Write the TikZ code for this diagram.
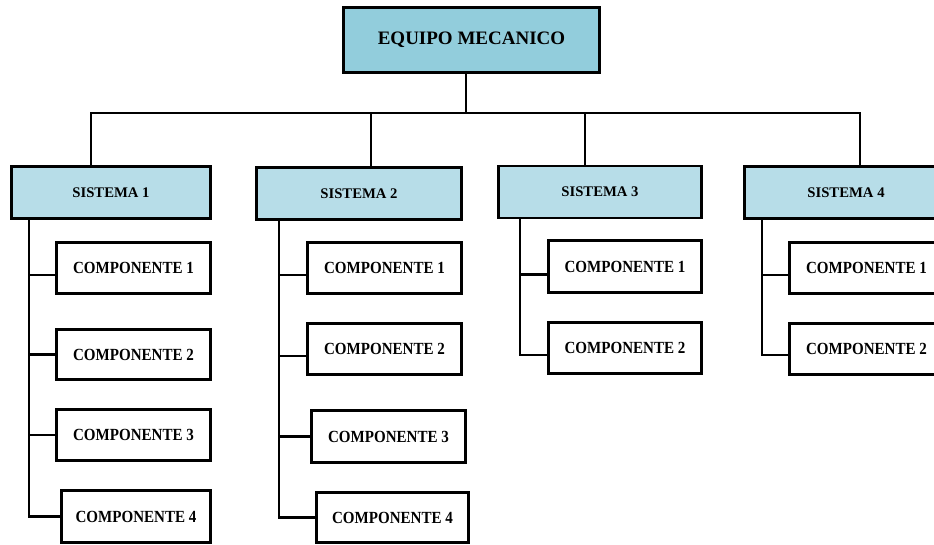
\documentclass[tikz,border=0pt]{standalone}
\usepackage{fontspec}
\setmainfont{Liberation Serif}
\newfontfamily\narrowserif[FakeStretch=0.885]{Liberation Serif}
\begin{document}
\begin{tikzpicture}[x=1pt,y=-1pt,
  box/.style={draw=black,line width=2.8pt,inner sep=0pt,outer sep=0pt,text=black},
  headbox/.style={box,fill=headblue,minimum width=256pt,minimum height=65pt,
    font=\fontsize{19}{22}\selectfont\bfseries},
  sysbox/.style={box,fill=sysblue,minimum height=52pt,
    font=\fontsize{14.7}{17}\selectfont\bfseries},
  compbox/.style={box,fill=white,minimum width=154pt,minimum height=51pt,
    font=\narrowserif\fontsize{17}{19}\selectfont\bfseries},
  bus/.style={draw=black,line width=2.6pt},
  stem/.style={draw=black,line width=1.5pt},
  link/.style={draw=black,line width=2.6pt}
]
\definecolor{headblue}{RGB}{146,205,220}
\definecolor{sysblue}{RGB}{183,221,232}
\useasboundingbox (0,0) rectangle (934,545);
\clip (0,0) rectangle (934,545);

% top level
\node[headbox] (top) at (471.5,40) {EQUIPO MECANICO};

% systems
\node[sysbox,minimum width=199pt] (s1) at (111,192.5) {SISTEMA 1};
\node[sysbox,minimum width=205pt] (s2) at (359,193.5) {SISTEMA 2};
\node[sysbox,minimum width=203pt] (s3) at (600,192) {SISTEMA 3};
\node[sysbox,minimum width=203pt] (s4) at (846,192.5) {SISTEMA 4};

% components of system 1
\node[compbox] (c11) at (133.5,268) {COMPONENTE 1};
\node[compbox,minimum height=50pt] (c12) at (133.5,354.5) {COMPONENTE 2};
\node[compbox] (c13) at (133.5,435) {COMPONENTE 3};
\node[compbox,minimum width=149pt,minimum height=52pt] (c14) at (136,516.5) {COMPONENTE 4};

% components of system 2
\node[compbox] (c21) at (384.5,268) {COMPONENTE 1};
\node[compbox] (c22) at (384.5,349) {COMPONENTE 2};
\node[compbox,minimum height=52pt] (c23) at (388.5,436.5) {COMPONENTE 3};
\node[compbox,minimum width=152pt,minimum height=50pt] (c24) at (392.5,517.5) {COMPONENTE 4};

% components of system 3
\node[compbox,minimum width=153pt,minimum height=52pt] (c31) at (625,266.5) {COMPONENTE 1};
\node[compbox,minimum width=153pt] (c32) at (625,348) {COMPONENTE 2};

% components of system 4
\node[compbox] (c41) at (866.5,268) {COMPONENTE 1};
\node[compbox] (c42) at (866.5,349) {COMPONENTE 2};

% branch points on the left side of each component
\coordinate (c11b) at ([yshift=-7pt]c11.west);
\coordinate (c12b) at (c12.west);
\coordinate (c13b) at (c13.west);
\coordinate (c14b) at (c14.west);
\coordinate (c21b) at ([yshift=-7pt]c21.west);
\coordinate (c22b) at ([yshift=-7pt]c22.west);
\coordinate (c23b) at (c23.west);
\coordinate (c24b) at (c24.west);
\coordinate (c31b) at ([yshift=-8pt]c31.west);
\coordinate (c32b) at ([yshift=-7pt]c32.west);
\coordinate (c41b) at ([yshift=-7pt]c41.west);
\coordinate (c42b) at ([yshift=-6pt]c42.west);

% bus and drops
\coordinate (d0) at (466,74);
\coordinate (b0) at (466,113);
\coordinate (d1) at (91,113);
\coordinate (d2) at (371,113);
\coordinate (d3) at (585,113);
\coordinate (d4) at (860,113);
\draw[stem] (top.south -| d0) -- (b0);
\draw[bus,line cap=rect] (d1) -- (d4);
\draw[bus] (d1) -- (d1 |- s1.north);
\draw[bus] (d2) -- (d2 |- s2.north);
\draw[bus] (d3) -- (d3 |- s3.north);
\draw[bus] (d4) -- (d4 |- s4.north);

% trunks and branches
\coordinate (t1) at (29,0);
\coordinate (t2) at (279,0);
\coordinate (t3) at (520,0);
\coordinate (t4) at (762,0);

\draw[link,line join=miter] (t1 |- s1.south) -- (t1 |- c14b) -- (c14b);
\draw[link] (t1 |- c11b) -- (c11b);
\draw[link] (t1 |- c12b) -- (c12b);
\draw[link] (t1 |- c13b) -- (c13b);

\draw[link,line join=miter] (t2 |- s2.south) -- (t2 |- c24b) -- (c24b);
\draw[link] (t2 |- c21b) -- (c21b);
\draw[link] (t2 |- c22b) -- (c22b);
\draw[link] (t2 |- c23b) -- (c23b);

\draw[link,line join=miter] (t3 |- s3.south) -- (t3 |- c32b) -- (c32b);
\draw[link] (t3 |- c31b) -- (c31b);

\draw[link,line join=miter] (t4 |- s4.south) -- (t4 |- c42b) -- (c42b);
\draw[link] (t4 |- c41b) -- (c41b);
\end{tikzpicture}
\end{document}
